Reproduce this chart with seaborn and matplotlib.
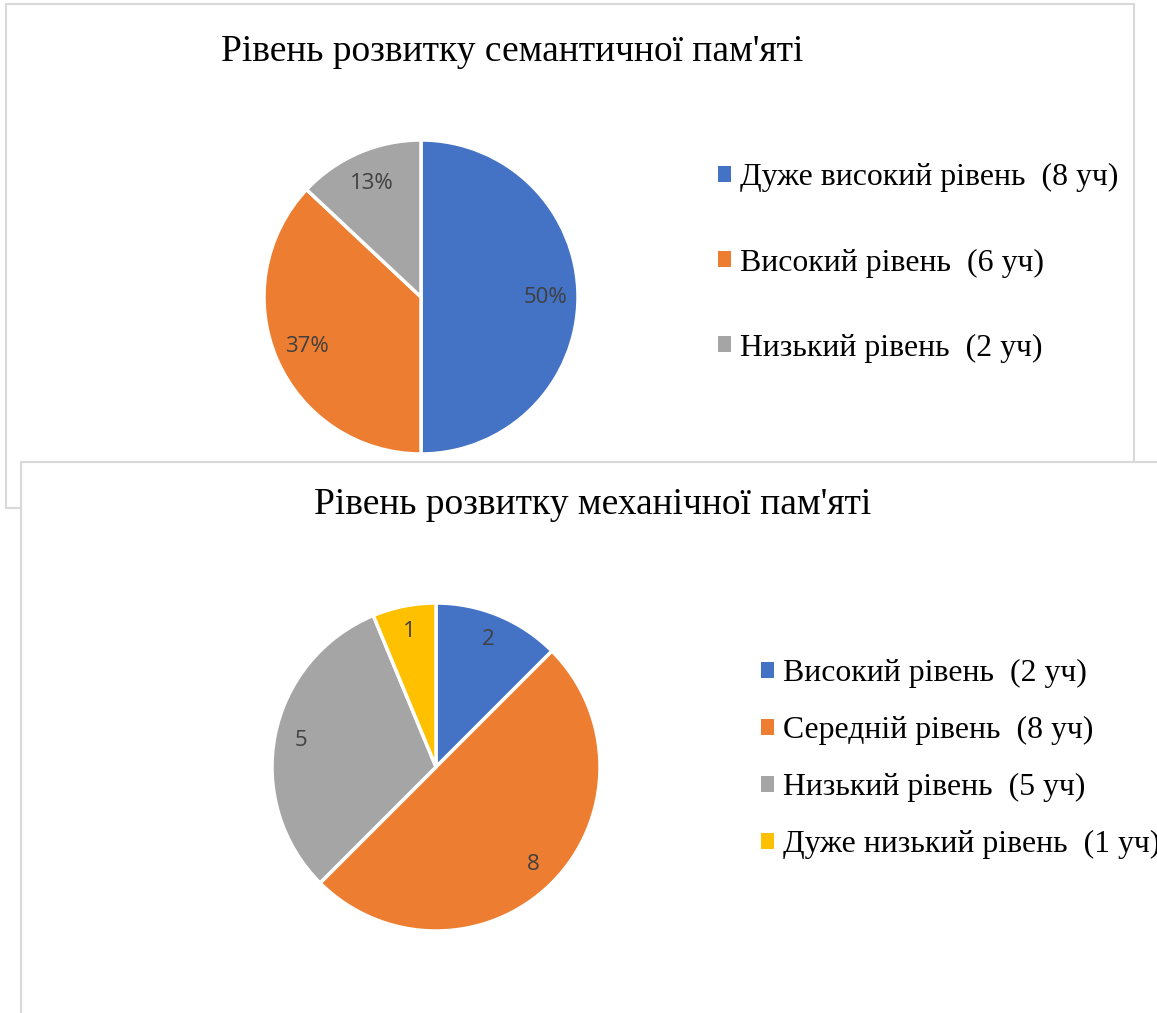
import matplotlib
matplotlib.use("Agg")
import matplotlib.pyplot as plt
from matplotlib.patches import Rectangle, Patch
import seaborn as sns

# ---- data ----
top_title = "Рівень розвитку семантичної пам'яті"
top_labels = ["Дуже високий рівень  (8 уч)", "Високий рівень  (6 уч)", "Низький рівень  (2 уч)"]
top_values = [50, 37, 13]          # percent shown on slices

bot_title = "Рівень розвитку механічної пам'яті"
bot_labels = ["Високий рівень  (2 уч)", "Середній рівень  (8 уч)",
              "Низький рівень  (5 уч)", "Дуже низький рівень  (1 уч)"]
bot_values = [2, 8, 5, 1]

palette = ["#4472C4", "#ED7D31", "#A5A5A5", "#FFC000"]

sns.set_theme(style="white")
plt.rcParams['font.family'] = ['Liberation Serif', 'DejaVu Serif']
plt.rcParams['text.color'] = 'black'

W, H = 1157, 1013
fig = plt.figure(figsize=(W / 100, H / 100), dpi=100)
fig.patch.set_facecolor("white")

def fx(x):
    return x / W

def fy(y):
    return 1 - y / H

border = "#D9D9D9"
# top chart box
fig.patches.append(Rectangle((fx(6), fy(508)), fx(1134) - fx(6), fy(4) - fy(508),
                             transform=fig.transFigure, facecolor="white",
                             edgecolor=border, lw=1.5, zorder=0))
# bottom chart box (overlapping, drawn on top)
fig.patches.append(Rectangle((fx(21), fy(1030)), fx(1180) - fx(21), fy(462) - fy(1030),
                             transform=fig.transFigure, facecolor="white",
                             edgecolor=border, lw=1.5, zorder=1))

label_font = dict(family=["Open Sans", "DejaVu Sans"], size=16, color="#404040")


def draw_pie(cx, cy, r, values, colors, fmt, pctdist):
    size = 2.5 * r
    ax = fig.add_axes([fx(cx - size / 2), fy(cy + size / 2), size / W, size / H])
    ax.set_zorder(3)
    total = sum(values)
    wedges, _, autotexts = ax.pie(values, colors=colors, startangle=90, counterclock=False,
                                  autopct=lambda p: fmt(p, total), pctdistance=pctdist,
                                  wedgeprops=dict(edgecolor="white", linewidth=2.5),
                                  textprops=label_font)
    ax.set_xlim(-1.25, 1.25)
    ax.set_ylim(-1.25, 1.25)
    ax.set_axis_off()
    return ax, wedges


legend_kw = dict(loc="center left", bbox_transform=fig.transFigure, frameon=False,
                 fontsize=22.9, borderpad=0, borderaxespad=0, handlelength=0.4,
                 handleheight=0.4, handletextpad=0.3, labelcolor="black")

# ---- top pie ----
ax1, w1 = draw_pie(421, 297, 157, top_values, palette[:3],
                   lambda p, t: f"{p:.0f}%", 0.79)
fig.text(fx(512), fy(52), top_title, ha="center", va="center", fontsize=27,
         color="black", zorder=5)
h1 = [Patch(facecolor=c, edgecolor="none") for c in palette[:3]]
leg1 = fig.legend(h1, top_labels, bbox_to_anchor=(fx(718), fy(263)),
                  labelspacing=1.76, **legend_kw)
leg1.set_zorder(0.5)

# ---- bottom pie ----
ax2, w2 = draw_pie(436, 767, 164, bot_values, palette,
                   lambda p, t: f"{p * t / 100:.0f}", 0.84)
fig.text(fx(593), fy(505), bot_title, ha="center", va="center", fontsize=27,
         color="black", zorder=5)
h2 = [Patch(facecolor=c, edgecolor="none") for c in palette]
leg2 = fig.legend(h2, bot_labels, bbox_to_anchor=(fx(761), fy(759)),
                  labelspacing=0.88, **legend_kw)
leg2.set_zorder(5)

fig.savefig("out.png", dpi=100, facecolor="white")
